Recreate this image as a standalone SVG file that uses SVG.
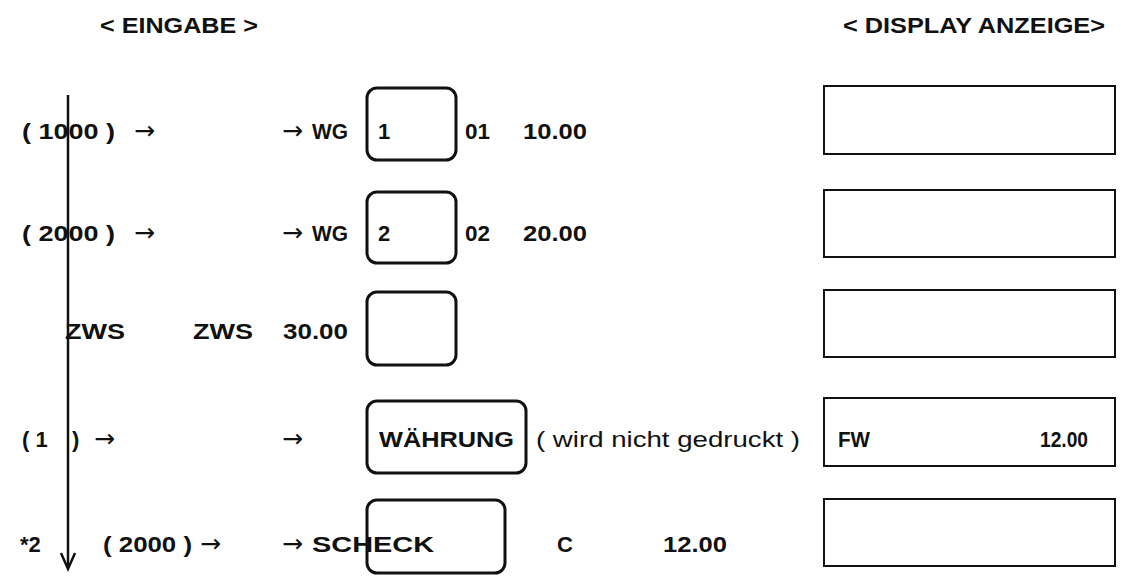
<svg xmlns="http://www.w3.org/2000/svg" width="1121" height="576" viewBox="0 0 1121 576">
<style>
text{font-family:"Liberation Sans",Arial,sans-serif;font-size:22px;font-weight:bold;fill:#111}
.n{font-weight:normal}
.a{font-family:"DejaVu Sans",sans-serif;font-weight:normal;font-size:25px}
.b{fill:#fff;stroke:#111;stroke-width:3}
.d{fill:#fff;stroke:#111;stroke-width:2}
.l{stroke:#111;stroke-width:2.5;fill:none}
</style>
<rect width="1121" height="576" fill="#fff"/>
<text x="100" y="33" textLength="158" lengthAdjust="spacingAndGlyphs">&lt; EINGABE &gt;</text>
<text x="843" y="33" textLength="262" lengthAdjust="spacingAndGlyphs">&lt; DISPLAY ANZEIGE&gt;</text>
<g id="connectors">
<line class="l" x1="68" y1="95" x2="68" y2="568"/>
<polyline class="l" points="61,553 68,569 75,553"/>
</g>
<g id="row1">
<rect class="b" x="367" y="88" width="89" height="72" rx="10"/>
<text x="22" y="139" textLength="93" lengthAdjust="spacingAndGlyphs">( 1000 )</text>
<text class="a" x="134" y="139">→</text>
<text class="a" x="282" y="139">→</text>
<text x="312" y="139" textLength="36" lengthAdjust="spacingAndGlyphs">WG</text>
<text x="378" y="139">1</text>
<text x="465" y="139" textLength="25" lengthAdjust="spacingAndGlyphs">01</text>
<text x="523" y="139" textLength="64" lengthAdjust="spacingAndGlyphs">10.00</text>
<rect class="d" x="824" y="86" width="291" height="68"/>
</g>
<g id="row2">
<rect class="b" x="367" y="192" width="89" height="71" rx="10"/>
<text x="22" y="241" textLength="93" lengthAdjust="spacingAndGlyphs">( 2000 )</text>
<text class="a" x="134" y="241">→</text>
<text class="a" x="282" y="241">→</text>
<text x="312" y="241" textLength="36" lengthAdjust="spacingAndGlyphs">WG</text>
<text x="378" y="241">2</text>
<text x="465" y="241" textLength="25" lengthAdjust="spacingAndGlyphs">02</text>
<text x="523" y="241" textLength="64" lengthAdjust="spacingAndGlyphs">20.00</text>
<rect class="d" x="824" y="190" width="291" height="67"/>
</g>
<g id="row3">
<rect class="b" x="367" y="292" width="89" height="73" rx="10"/>
<text x="65" y="339" textLength="60" lengthAdjust="spacingAndGlyphs">ZWS</text>
<text x="193" y="339" textLength="60" lengthAdjust="spacingAndGlyphs">ZWS</text>
<text x="283" y="339" textLength="65" lengthAdjust="spacingAndGlyphs">30.00</text>
<rect class="d" x="824" y="290" width="291" height="67"/>
</g>
<g id="row4">
<rect class="b" x="367" y="401" width="159" height="72" rx="10"/>
<text x="22" y="447">( 1</text>
<text x="72" y="447">)</text>
<text class="a" x="94" y="447">→</text>
<text class="a" x="282" y="447">→</text>
<text x="379" y="447" textLength="135" lengthAdjust="spacingAndGlyphs">WÄHRUNG</text>
<text class="n" x="536" y="447" textLength="264" lengthAdjust="spacingAndGlyphs">( wird nicht gedruckt )</text>
<rect class="d" x="824" y="398" width="291" height="68"/>
<text x="838" y="447" textLength="32" lengthAdjust="spacingAndGlyphs">FW</text>
<text x="1040" y="447" textLength="48" lengthAdjust="spacingAndGlyphs">12.00</text>
</g>
<g id="row5">
<rect class="b" x="367" y="500" width="138" height="73" rx="10"/>
<text x="20" y="552">*2</text>
<text x="103" y="552" textLength="89" lengthAdjust="spacingAndGlyphs">( 2000 )</text>
<text class="a" x="200" y="552">→</text>
<text class="a" x="282" y="552">→</text>
<text x="312" y="552" textLength="122" lengthAdjust="spacingAndGlyphs">SCHECK</text>
<text x="557" y="552">C</text>
<text x="663" y="552" textLength="64" lengthAdjust="spacingAndGlyphs">12.00</text>
<rect class="d" x="824" y="499" width="291" height="67"/>
</g>
</svg>
